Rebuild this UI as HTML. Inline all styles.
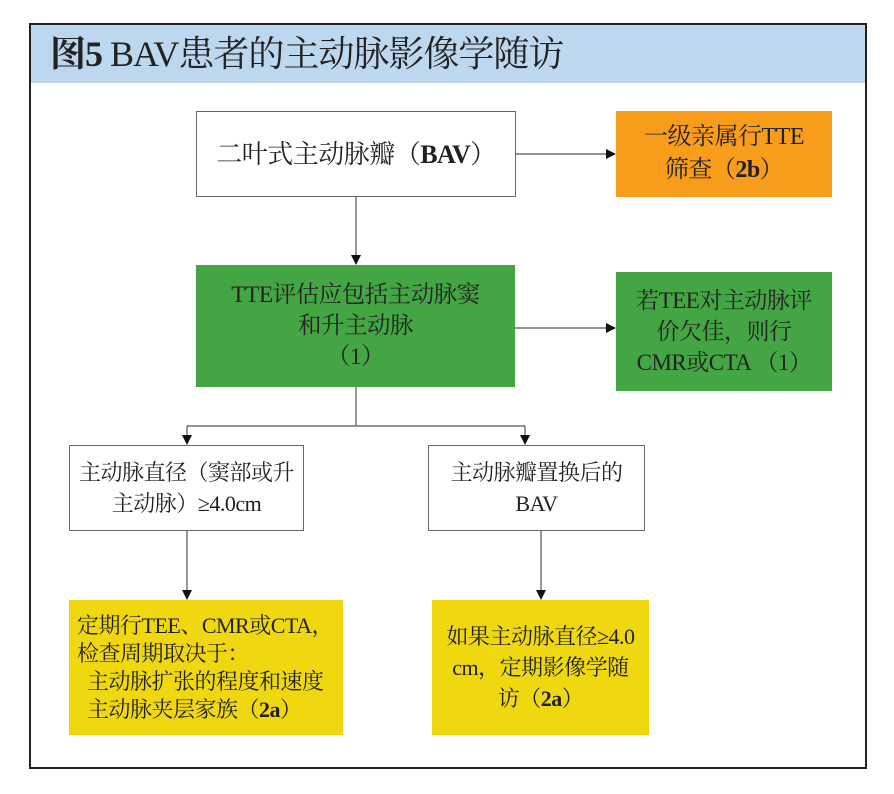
<!DOCTYPE html>
<html><head><meta charset="utf-8"><style>
body{margin:0;width:894px;height:794px;background:#fff;position:relative;font-family:"Liberation Serif","Noto Serif CJK SC","Noto Sans CJK SC",serif;color:#222}
.b{position:absolute;box-sizing:border-box;display:flex;align-items:center;justify-content:center;text-align:center;font-size:22px;line-height:31px;letter-spacing:-0.5px}
</style></head><body>
<div style="position:absolute;left:29px;top:23px;width:838px;height:746px;border:2px solid #222;box-sizing:border-box"></div>
<div style="position:absolute;left:31px;top:25px;width:834px;height:58px;background:#bdd7ee"></div>
<div style="position:absolute;left:50px;top:30px;font-size:36px;line-height:48px;color:#222;letter-spacing:-1px;white-space:nowrap"><b>图5</b> BAV患者的主动脉影像学随访</div>
<div class="b" style="left:196px;top:111px;width:320px;height:86px;border:1px solid #666;background:#fff;font-size:26px"><div>二叶式主动脉瓣（<b>BAV</b>）</div></div>
<div class="b" style="left:616px;top:111px;width:216px;height:86px;background:#f89c1c;font-size:24px;line-height:33px"><div>一级亲属行TTE<br>筛查（<b>2b</b>）</div></div>
<div class="b" style="left:196px;top:265px;width:319px;height:122px;background:#43a543;font-size:23.5px"><div>TTE评估应包括主动脉窦<br>和升主动脉<br>（1）</div></div>
<div class="b" style="left:616px;top:272px;width:216px;height:119px;background:#43a543;font-size:23px"><div>若TEE对主动脉评<br>价欠佳，则行<br>CMR或CTA （1）</div></div>
<div class="b" style="left:69px;top:445px;width:235px;height:86px;border:1px solid #666;background:#fff"><div>主动脉直径（窦部或升<br>主动脉）≥4.0cm</div></div>
<div class="b" style="left:428px;top:445px;width:217px;height:86px;border:1px solid #666;background:#fff"><div>主动脉瓣置换后的<br>BAV</div></div>
<div class="b" style="left:69px;top:600px;width:274px;height:135px;background:#efd80f;justify-content:flex-start;text-align:left;padding-left:8px;line-height:28px"><div>定期行TEE、CMR或CTA，<br>检查周期取决于：<br>&nbsp;&nbsp;主动脉扩张的程度和速度<br>&nbsp;&nbsp;主动脉夹层家族（<b>2a</b>）</div></div>
<div class="b" style="left:432px;top:600px;width:217px;height:135px;background:#efd80f"><div>如果主动脉直径≥4.0<br>cm，定期影像学随<br>访（<b>2a</b>）</div></div>
<svg style="position:absolute;left:0;top:0" width="894" height="794">
<defs><marker id="a" markerWidth="10" markerHeight="10" refX="9" refY="5" orient="auto" markerUnits="userSpaceOnUse"><path d="M0,0L10,5L0,10z" fill="#111"/></marker></defs>
<g stroke="#555" stroke-width="1.2" fill="none">
<path d="M356 197V264" marker-end="url(#a)"/>
<path d="M516 154H615" marker-end="url(#a)"/>
<path d="M515 328H615" marker-end="url(#a)"/>
<path d="M356 387V426M187 426H525"/>
<path d="M187 426V444" marker-end="url(#a)"/>
<path d="M525 426V444" marker-end="url(#a)"/>
<path d="M187 531V599" marker-end="url(#a)"/>
<path d="M541 531V599" marker-end="url(#a)"/>
</g></svg>
</body></html>
